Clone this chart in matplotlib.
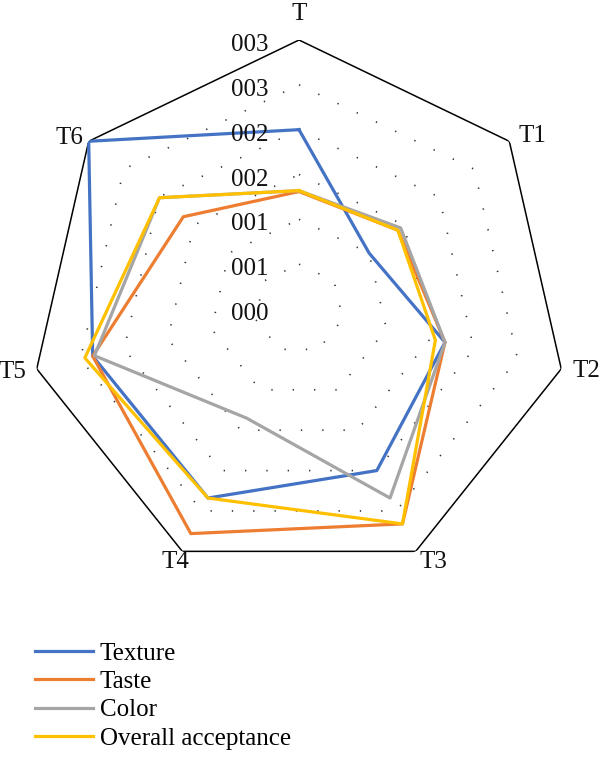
import numpy as np
import matplotlib
matplotlib.use("Agg")
import matplotlib.pyplot as plt
from matplotlib.transforms import offset_copy

plt.rcParams['font.family'] = ['Liberation Serif', 'DejaVu Serif']

categories = ["T", "T1", "T2", "T3", "T4", "T5", "T6"]
texture = [2.0, 1.0, 1.67, 2.0, 2.34, 2.36, 3.0]
taste = [1.31, 1.41, 1.67, 2.66, 2.78, 2.36, 1.65]
color = [1.32, 1.45, 1.67, 2.34, 1.35, 2.34, 1.99]
overall = [1.32, 1.41, 1.56, 2.66, 2.34, 2.45, 1.99]
ring_values = [0.0, 0.5, 1.0, 1.5, 2.0, 2.5, 3.0]
ring_labels = ["000", "001", "001", "002", "002", "003", "003"]

series = [("Texture", texture, "#4472C4"),
          ("Taste", taste, "#ED7D31"),
          ("Color", color, "#A5A5A5"),
          ("Overall acceptance", overall, "#FFC000")]

W, H = 600, 757
FS = 18
fig = plt.figure(figsize=(W / 100, H / 100), dpi=100)
cx, cy, R = 299, 309, 269
ax = fig.add_axes([(cx - R) / W, (H - cy - R) / H, 2 * R / W, 2 * R / H],
                  projection='polar')
ax.set_theta_zero_location('N')
ax.set_theta_direction(-1)
ax.set_ylim(0, 3)
ax.grid(False)
ax.spines['polar'].set_visible(False)
ax.set_xticks([])
ax.set_yticks([])
ax.patch.set_alpha(0)

n = len(categories)
theta = np.arange(n) * 2 * np.pi / n
theta_c = np.append(theta, theta[0])
rmax = ring_values[-1]

# rings
for v in ring_values[1:]:
    if v == rmax:
        ax.plot(theta_c, [v] * (n + 1), color='black', lw=1.1, zorder=1)
    else:
        ax.plot(theta_c, [v] * (n + 1), color='#333333', lw=1.2,
                linestyle=(0, (0.8, 12)), zorder=1)

for name, vals, c in series:
    ax.plot(theta_c, list(vals) + [vals[0]], color=c, lw=2.3, label=name, zorder=3)

# ring labels
tr = offset_copy(ax.transData, fig=fig, x=-30, y=-11, units='dots')
for v, lab in zip(ring_values, ring_labels):
    ax.text(0, v, lab, transform=tr, ha='right', va='baseline', fontsize=FS,
            color='#111111', zorder=4)

# category labels (offsets in pixels from each outer vertex)
label_style = {
    "T": (0, 20, 'center'),
    "T1": (9, -1, 'left'),
    "T2": (11, -8, 'left'),
    "T3": (4, -17, 'left'),
    "T4": (7, -17, 'right'),
    "T5": (-10, -9, 'right'),
    "T6": (-5, -3, 'right'),
}
for t, lab in zip(theta, categories):
    dx, dy, ha = label_style[lab]
    trl = offset_copy(ax.transData, fig=fig, x=dx, y=dy, units='dots')
    ax.text(t, rmax, lab, transform=trl, ha=ha, va='baseline', fontsize=FS,
            color='#111111')

handles, labels = ax.get_legend_handles_labels()
leg = fig.legend(handles, labels, loc='upper left',
                 bbox_to_anchor=(35 / W, 1 - 642 / H), frameon=False,
                 fontsize=FS, handlelength=2.32, handletextpad=0.28,
                 labelspacing=0.24, borderpad=0, borderaxespad=0)
for line in leg.get_lines():
    line.set_linewidth(2.3)

fig.savefig("out.png", dpi=100)
